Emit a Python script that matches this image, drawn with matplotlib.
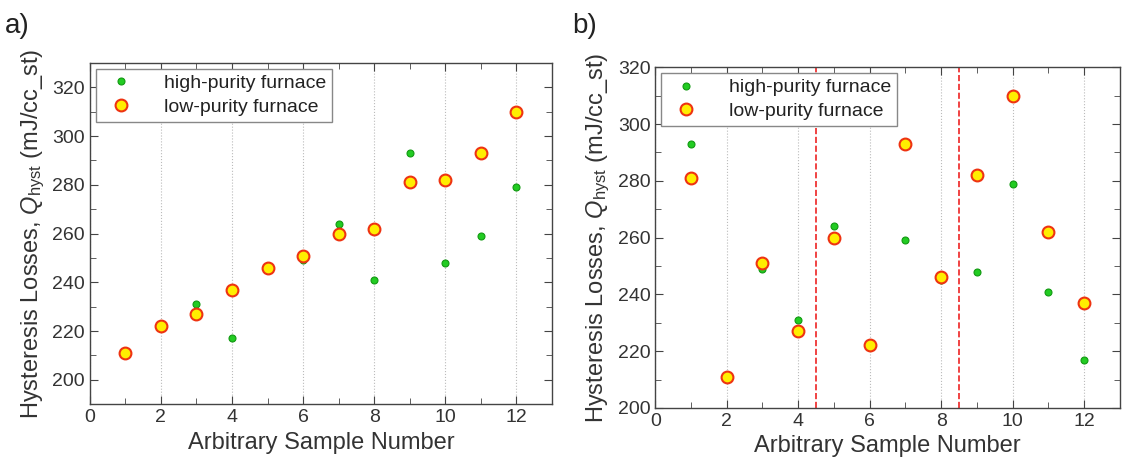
import matplotlib.pyplot as plt
from matplotlib.ticker import MultipleLocator

plt.rcParams['font.family'] = ['Liberation Sans', 'DejaVu Sans']
plt.rcParams['mathtext.fontset'] = 'custom'
plt.rcParams['mathtext.rm'] = 'Liberation Sans'
plt.rcParams['mathtext.it'] = 'Liberation Sans:italic'

# panel a: samples in original order
samples = list(range(1, 13))
a_high = [211, 222, 231, 217, 246, 249, 264, 241, 293, 248, 259, 279]
a_low = [211, 222, 227, 237, 246, 251, 260, 262, 281, 282, 293, 310]

# panel b: samples regrouped
b_high = [293, 211, 249, 231, 264, 223, 259, 245, 248, 279, 241, 217]
b_low = [281, 211, 251, 227, 260, 222, 293, 246, 282, 310, 262, 237]
b_splits = [4.5, 8.5]

text_col = '#333333'
fig = plt.figure(figsize=(11.22, 4.70), dpi=100)
ax_a = fig.add_axes([0.080, 0.140, 0.412, 0.726])
ax_b = fig.add_axes([0.584, 0.132, 0.414, 0.725])


def style_axis(ax, ylim):
    ax.set_xlim(0, 13)
    ax.set_ylim(*ylim)
    ax.xaxis.set_major_locator(MultipleLocator(2))
    ax.xaxis.set_minor_locator(MultipleLocator(1))
    ax.yaxis.set_major_locator(MultipleLocator(20))
    ax.yaxis.set_minor_locator(MultipleLocator(10))
    ax.tick_params(which='both', direction='in', top=True, right=True,
                   labelsize=14, labelcolor=text_col, color='#444444')
    ax.tick_params(which='major', length=6)
    ax.tick_params(which='minor', length=4)
    ax.grid(axis='x', which='major', color='#bbbbbb', linestyle=':', linewidth=0.8)
    for s in ax.spines.values():
        s.set_color('#444444')
        s.set_linewidth(1.0)
    ax.set_xlabel('Arbitrary Sample Number', fontsize=17, color=text_col)
    ax.set_ylabel('Hysteresis Losses, $Q_{\\mathrm{hyst}}$ (mJ/cc_st)',
                  fontsize=17, color=text_col)


def draw(ax, high, low):
    ax.plot(samples, high, 'o', ms=5, mfc='#22cc22', mec='#119911', mew=0.8,
            label='high-purity furnace', zorder=3)
    ax.plot(samples, low, 'o', ms=8.5, mfc='#ffee00', mec='#ee3311', mew=1.5,
            label='low-purity furnace', zorder=4)
    leg = ax.legend(loc='upper left', fontsize=14, fancybox=False, framealpha=1,
                    edgecolor='#888888', borderaxespad=0.3, handletextpad=1.2,
                    labelspacing=0.3, borderpad=0.3)
    for t in leg.get_texts():
        t.set_color('#222222')


style_axis(ax_a, (190, 330))
draw(ax_a, a_high, a_low)

style_axis(ax_b, (200, 320))
draw(ax_b, b_high, b_low)
for xv in b_splits:
    ax_b.axvline(xv, color='#ee2222', linestyle='--', linewidth=1.2, zorder=2)

fig.text(0.004, 0.93, 'a)', fontsize=20, color='#222222')
fig.text(0.510, 0.93, 'b)', fontsize=20, color='#222222')

fig.savefig('out.png', dpi=100)
